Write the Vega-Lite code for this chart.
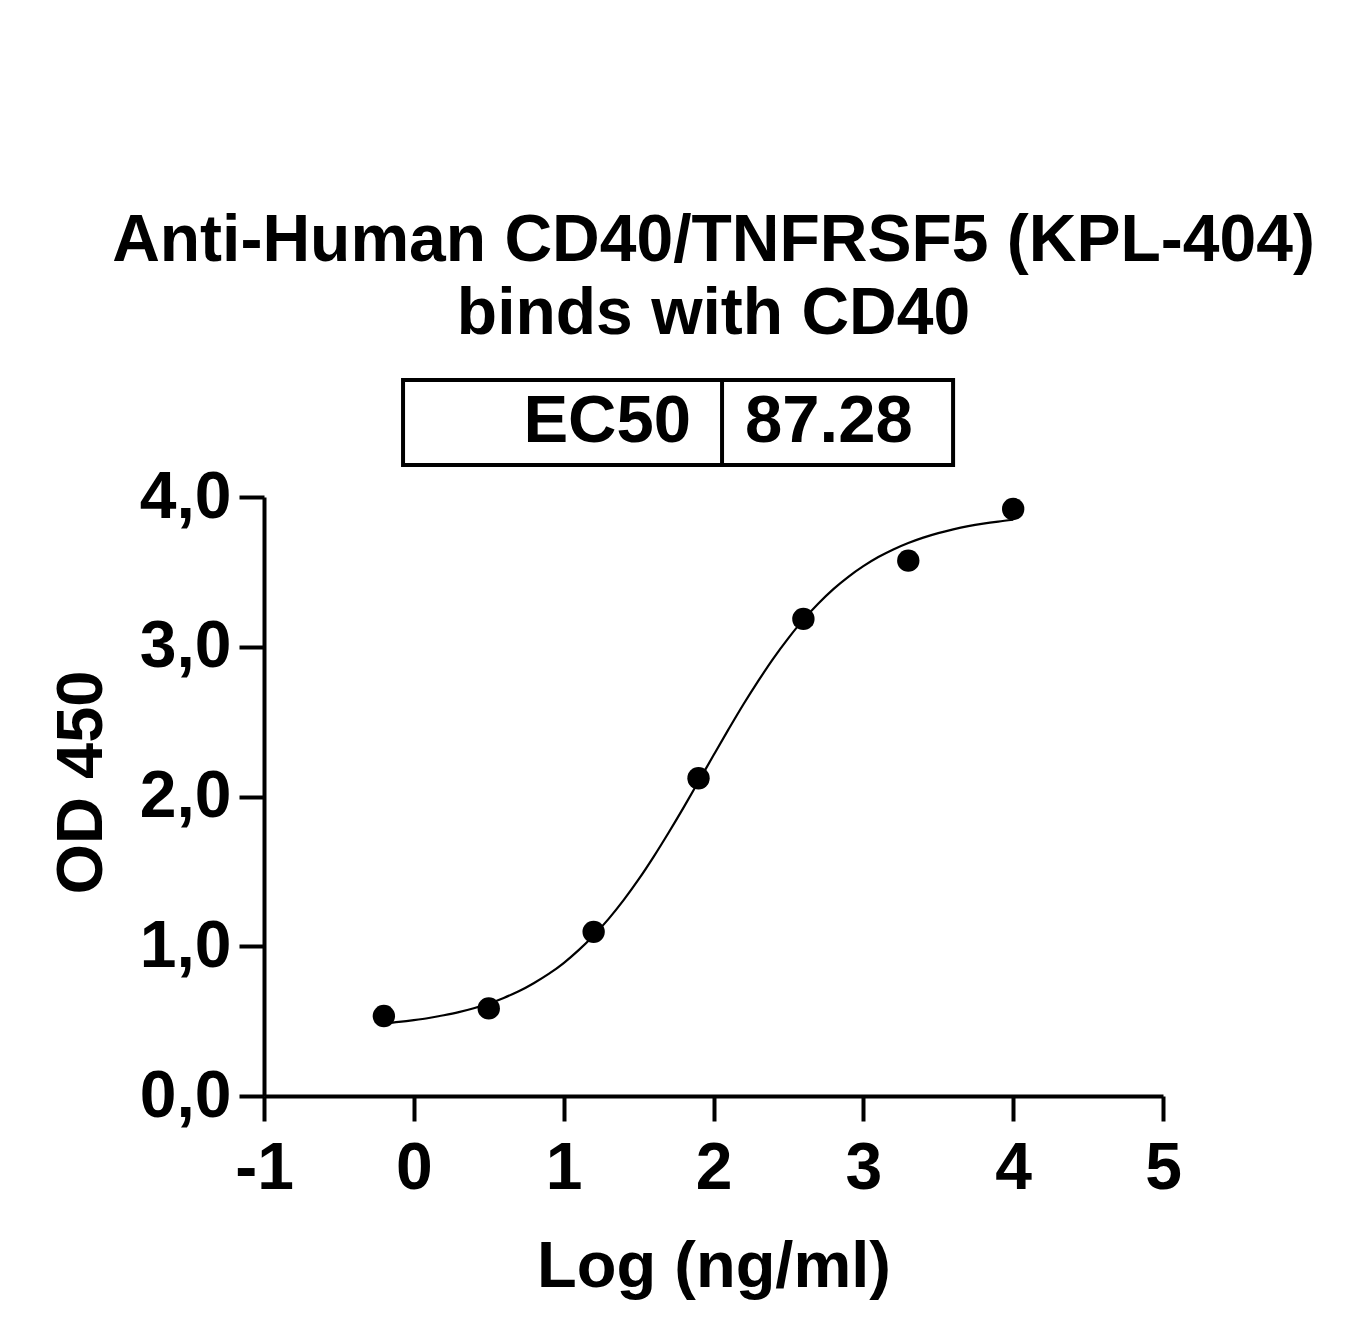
{
  "$schema": "https://vega.github.io/schema/vega-lite/v6.json",
  "width": 899,
  "height": 599,
  "autosize": {"type": "none"},
  "padding": {"left": 264, "top": 497, "right": 199, "bottom": 246},
  "background": "white",
  "title": {
    "text": ["Anti-Human CD40/TNFRSF5 (KPL-404)", "binds with CD40"],
    "font": "Liberation Sans",
    "fontSize": 66,
    "fontWeight": "bold",
    "color": "black",
    "anchor": "middle",
    "lineHeight": 73,
    "offset": 30
  },
  "config": {
    "view": {"stroke": null},
    "axis": {
      "grid": false,
      "domainColor": "black",
      "domainWidth": 4,
      "tickColor": "black",
      "tickWidth": 4,
      "tickSize": 25,
      "labelFont": "Liberation Sans",
      "labelFontWeight": "bold",
      "labelFontSize": 66,
      "labelColor": "black",
      "labelFlush": false,
      "titleFont": "Liberation Sans",
      "titleFontWeight": "bold",
      "titleFontSize": 65,
      "titleColor": "black"
    }
  },
  "datasets": {
    "points": [
      {"logc": -0.2, "od": 0.534},
      {"logc": 0.5, "od": 0.585},
      {"logc": 1.2, "od": 1.096},
      {"logc": 1.9, "od": 2.122},
      {"logc": 2.6, "od": 3.186},
      {"logc": 3.3, "od": 3.575},
      {"logc": 4.0, "od": 3.92}
    ],
    "curve": [
      {"logc": -0.2, "od": 0.485},
      {"logc": -0.1, "od": 0.495},
      {"logc": 0.0, "od": 0.507},
      {"logc": 0.1, "od": 0.521},
      {"logc": 0.2, "od": 0.539},
      {"logc": 0.3, "od": 0.56},
      {"logc": 0.4, "od": 0.586},
      {"logc": 0.5, "od": 0.617},
      {"logc": 0.6, "od": 0.655},
      {"logc": 0.7, "od": 0.699},
      {"logc": 0.8, "od": 0.753},
      {"logc": 0.9, "od": 0.815},
      {"logc": 1.0, "od": 0.888},
      {"logc": 1.1, "od": 0.974},
      {"logc": 1.2, "od": 1.072},
      {"logc": 1.3, "od": 1.183},
      {"logc": 1.4, "od": 1.308},
      {"logc": 1.5, "od": 1.446},
      {"logc": 1.6, "od": 1.597},
      {"logc": 1.7, "od": 1.758},
      {"logc": 1.8, "od": 1.926},
      {"logc": 1.9, "od": 2.1},
      {"logc": 2.0, "od": 2.275},
      {"logc": 2.1, "od": 2.448},
      {"logc": 2.2, "od": 2.616},
      {"logc": 2.3, "od": 2.774},
      {"logc": 2.4, "od": 2.923},
      {"logc": 2.5, "od": 3.058},
      {"logc": 2.6, "od": 3.181},
      {"logc": 2.7, "od": 3.289},
      {"logc": 2.8, "od": 3.385},
      {"logc": 2.9, "od": 3.467},
      {"logc": 3.0, "od": 3.538},
      {"logc": 3.1, "od": 3.599},
      {"logc": 3.2, "od": 3.65},
      {"logc": 3.3, "od": 3.693},
      {"logc": 3.4, "od": 3.729},
      {"logc": 3.5, "od": 3.759},
      {"logc": 3.6, "od": 3.784},
      {"logc": 3.7, "od": 3.805},
      {"logc": 3.8, "od": 3.822},
      {"logc": 3.9, "od": 3.836},
      {"logc": 4.0, "od": 3.848}
    ],
    "ec50": [{"label": "EC50", "value": "87.28"}]
  },
  "layer": [
    {
      "data": {"name": "curve"},
      "mark": {"type": "line", "color": "black", "strokeWidth": 2.2, "interpolate": "monotone"},
      "encoding": {
        "x": {
          "field": "logc", "type": "quantitative",
          "scale": {"domain": [-1, 5], "nice": false, "zero": false},
          "axis": {"values": [-1, 0, 1, 2, 3, 4, 5], "labelExpr": "'' + datum.value", "title": "Log (ng/ml)", "labelPadding": 15, "titlePadding": 34}
        },
        "y": {
          "field": "od", "type": "quantitative",
          "scale": {"domain": [0, 4], "nice": false},
          "axis": {"values": [0, 1, 2, 3, 4], "labelExpr": "replace(format(datum.value, '.1f'), '.', ',')", "title": "OD 450", "labelPadding": 8, "titlePadding": 24, "titleY": 285}
        }
      }
    },
    {
      "data": {"name": "points"},
      "mark": {"type": "point", "filled": true, "color": "black", "opacity": 1, "size": 500},
      "encoding": {
        "x": {"field": "logc", "type": "quantitative"},
        "y": {"field": "od", "type": "quantitative"}
      }
    },
    {
      "data": {"name": "ec50"},
      "mark": {"type": "rect", "fill": "white", "stroke": "black", "strokeWidth": 4, "clip": false},
      "encoding": {
        "x": {"datum": -0.072},
        "x2": {"datum": 3.599},
        "y": {"datum": 4.781},
        "y2": {"datum": 4.214}
      }
    },
    {
      "data": {"name": "ec50"},
      "mark": {"type": "rule", "stroke": "black", "strokeWidth": 4, "clip": false},
      "encoding": {
        "x": {"datum": 2.057},
        "y": {"datum": 4.781},
        "y2": {"datum": 4.214}
      }
    },
    {
      "data": {"name": "ec50"},
      "mark": {"type": "text", "font": "Liberation Sans", "fontWeight": "bold", "fontSize": 67, "align": "right", "baseline": "middle", "color": "black", "clip": false},
      "encoding": {
        "x": {"datum": 1.85},
        "y": {"datum": 4.5},
        "text": {"field": "label"}
      }
    },
    {
      "data": {"name": "ec50"},
      "mark": {"type": "text", "font": "Liberation Sans", "fontWeight": "bold", "fontSize": 67, "align": "center", "baseline": "middle", "color": "black", "clip": false},
      "encoding": {
        "x": {"datum": 2.77},
        "y": {"datum": 4.5},
        "text": {"field": "value"}
      }
    }
  ]
}
